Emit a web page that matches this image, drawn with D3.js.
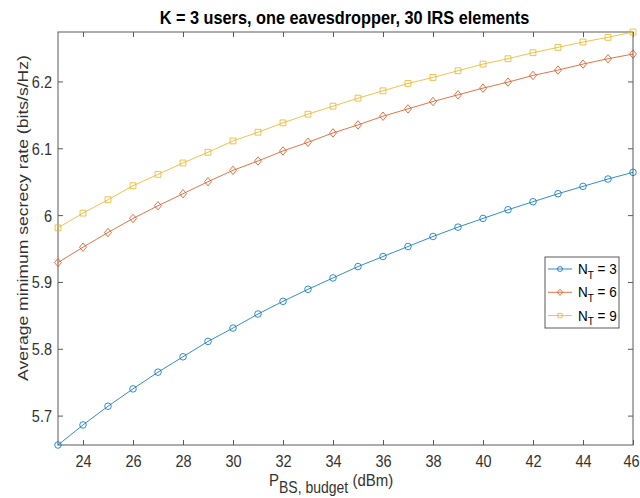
<!DOCTYPE html>
<html><head><meta charset="utf-8">
<script src="https://cdn.jsdelivr.net/npm/d3@7"></script>
<style>
body{margin:0;background:#fff;}
text{font-family:"Liberation Sans",Arial,sans-serif;}
</style></head>
<body><svg id="c" width="640" height="498"></svg>
<script>
const power = d3.range(23, 47);
const nt3 = [5.656,5.686,5.714,5.740,5.765,5.788,5.811,5.831,5.852,5.871,5.889,5.906,5.923,5.938,5.953,5.968,5.982,5.995,6.008,6.020,6.032,6.043,6.054,6.064];
const nt6 = [5.929,5.952,5.974,5.995,6.014,6.032,6.050,6.067,6.081,6.096,6.109,6.123,6.135,6.148,6.159,6.170,6.180,6.190,6.199,6.209,6.217,6.226,6.234,6.241];
const nt9 = [5.981,6.003,6.023,6.044,6.061,6.078,6.094,6.111,6.124,6.138,6.151,6.163,6.175,6.186,6.197,6.206,6.216,6.226,6.234,6.243,6.251,6.259,6.266,6.274];
const xTicks = [24,26,28,30,32,34,36,38,40,42,44,46];
const yTicks = [5.7,5.8,5.9,6,6.1,6.2];
const seriesNames = ["3","6","9"];
const seriesColors = ["#0072BD","#D95319","#EDB120"];
const seriesMarkers = ["circle","diamond","square"];

const svg = d3.select("#c");
const L=58,R=633,T=32,B=445;
const S=1.15; // vertical stretch of glyphs seen in the reference
const all = nt3.concat(nt6,nt9);
const x = d3.scaleLinear().domain([23,46]).range([L,R]);
const y = d3.scaleLinear().domain(d3.extent(all)).range([B,T]);
const axisCol="#5a5a5a";
const textCol="#333";

function stretchTicks(g){
  g.selectAll("text").each(function(d){
    const t=d3.select(this);
    const yy=+t.attr("y")||0;
    let xx=+t.attr("x")||0;
    if(d===46) xx-=2;
    t.attr("y",null).attr("dy",null).attr("x",null)
     .attr("transform",`translate(${xx},${yy}) scale(1,${S})`);
  });
}

const tl=5;
svg.append("g").attr("transform",`translate(0,${B})`)
  .call(d3.axisBottom(x).tickValues(xTicks).tickSizeInner(-tl).tickSizeOuter(0).tickPadding(0).tickFormat(d3.format("d")))
  .call(g=>{g.select(".domain").remove();g.selectAll("line").attr("stroke",axisCol);
    g.selectAll("text").attr("fill",textCol).style("font-size","14.5px").attr("y",22);
    stretchTicks(g);});
svg.append("g").attr("transform",`translate(0,${T})`)
  .call(d3.axisTop(x).tickValues(xTicks).tickSizeInner(-tl).tickSizeOuter(0).tickFormat(""))
  .call(g=>{g.select(".domain").remove();g.selectAll("line").attr("stroke",axisCol);});
svg.append("g").attr("transform",`translate(${L},0)`)
  .call(d3.axisLeft(y).tickValues(yTicks).tickSizeInner(-tl).tickSizeOuter(0).tickPadding(0).tickFormat(d=>d3.format("")(d)))
  .call(g=>{g.select(".domain").remove();g.selectAll("line").attr("stroke",axisCol);
    g.selectAll("text").attr("fill",textCol).style("font-size","14.5px").attr("x",-6).attr("y",6);
    stretchTicks(g);});
svg.append("g").attr("transform",`translate(${R},0)`)
  .call(d3.axisRight(y).tickValues(yTicks).tickSizeInner(-tl).tickSizeOuter(0).tickFormat(""))
  .call(g=>{g.select(".domain").remove();g.selectAll("line").attr("stroke",axisCol);});
svg.append("rect").attr("x",L).attr("y",T).attr("width",R-L).attr("height",B-T)
  .attr("fill","none").attr("stroke",axisCol).attr("stroke-width",1);

const diamondPath = (w,h)=>`M0,${-h}L${w},0L0,${h}L${-w},0Z`;
function markerPath(type,scale){
  if(type==="circle") return d3.symbol().type(d3.symbolCircle).size(34*scale*scale)();
  if(type==="square") return d3.symbol().type(d3.symbolSquare).size(34*scale*scale)();
  return diamondPath(3.5*scale,4.2*scale);
}
const data = [nt3,nt6,nt9];
const line = d3.line().x((d,i)=>x(power[i])).y(d=>y(d));
data.forEach((vals,k)=>{
  const g = svg.append("g");
  g.append("path").datum(vals).attr("d",line).attr("fill","none")
    .attr("stroke",seriesColors[k]).attr("stroke-width",1).attr("stroke-opacity",0.8);
  g.selectAll("path.m").data(vals).join("path").attr("class","m")
    .attr("transform",(d,i)=>`translate(${x(power[i])},${y(d)})`)
    .attr("d",markerPath(seriesMarkers[k],1))
    .attr("fill","none").attr("stroke",seriesColors[k]).attr("stroke-width",1).attr("stroke-opacity",0.8);
});

// title
svg.append("text").attr("transform",`translate(${(L+R)/2-1},24) scale(1,${S})`).attr("text-anchor","middle")
  .style("font-size","16.3px").style("font-weight","bold").attr("fill","#000")
  .text("K = 3 users, one eavesdropper, 30 IRS elements");

// y label
svg.append("text").attr("transform",`translate(28,218) rotate(-90) scale(${S},1)`).attr("text-anchor","middle")
  .style("font-size","15.3px").attr("fill",textCol)
  .text("Average minimum secrecy rate (bits/s/Hz)");

// x label
const xl = svg.append("text").attr("transform",`translate(269,486) scale(1,${S})`).attr("text-anchor","start")
  .style("font-size","15px").attr("fill",textCol);
xl.append("tspan").text("P");
xl.append("tspan").attr("dy",6.5).style("font-size","14px").text("BS, budget");
xl.append("tspan").attr("dy",-6.5).text(" (dBm)");

// legend
const lx=545, ly=257, lw=74, lh=71;
svg.append("rect").attr("x",lx).attr("y",ly).attr("width",lw).attr("height",lh)
  .attr("fill","#fff").attr("stroke",axisCol).attr("stroke-width",1);
seriesNames.forEach((n,k)=>{
  const cy = ly+12+k*23.3;
  svg.append("line").attr("x1",lx+3).attr("x2",lx+27).attr("y1",cy).attr("y2",cy)
    .attr("stroke",seriesColors[k]).attr("stroke-width",1).attr("stroke-opacity",0.8);
  svg.append("path").attr("transform",`translate(${lx+15},${cy})`)
    .attr("d",markerPath(seriesMarkers[k],0.75))
    .attr("fill","none").attr("stroke",seriesColors[k]).attr("stroke-width",1).attr("stroke-opacity",0.8);
  const t = svg.append("text").attr("transform",`translate(${lx+33},${cy+5}) scale(1,${S})`).style("font-size","13.5px").attr("fill","#000");
  t.append("tspan").text("N");
  t.append("tspan").attr("dy",4).style("font-size","10px").text("T");
  t.append("tspan").attr("dy",-4).text(" = "+n);
});
</script></body></html>
